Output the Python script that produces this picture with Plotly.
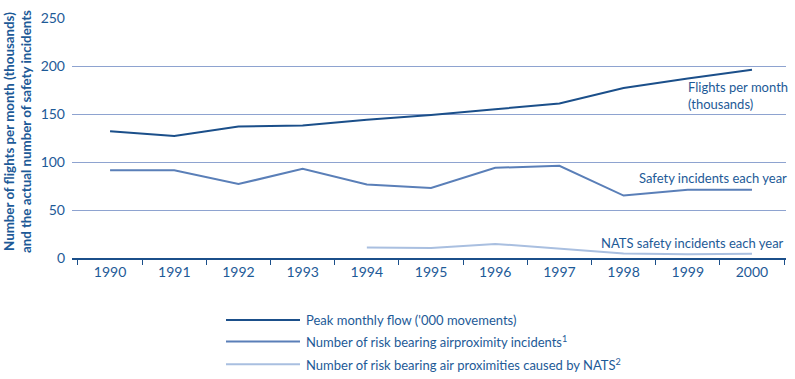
import plotly.graph_objects as go

years = ["1990", "1991", "1992", "1993", "1994", "1995", "1996", "1997", "1998", "1999", "2000"]
flights = [132, 127, 137, 138, 144, 149, 155, 161, 177, 187, 196]
safety = [91.5, 91.5, 77, 93, 76.5, 73, 94, 96, 65, 71, 71]
nats_years = ["1994", "1995", "1996", "1997", "1998", "1999", "2000"]
nats = [11, 10.5, 14.7, 9.5, 4.8, 3.8, 4.4]

legend_labels = [
    "Peak monthly flow ('000 movements)",
    "Number of risk bearing airproximity incidents<sup>1</sup>",
    "Number of risk bearing air proximities caused by NATS<sup>2</sup>",
]

C_DARK = "#1b4f8a"
C_MID = "#5a7fb8"
C_LIGHT = "#a9bfe0"
C_TEXT = "#1d5a97"
C_GRID = "#8ea3d0"
FONT = "Lato, Open Sans, sans-serif"

W, H = 795, 379
ml, mr, mt, mb = 72, 9, 14, 121
pw, ph = W - ml - mr, H - mt - mb

def px(x):  # screen x -> paper
    return (x - ml) / pw

def py(y):  # screen y -> paper
    return (H - mb - y) / ph

fig = go.Figure()
fig.add_trace(go.Scatter(x=years, y=flights, mode="lines", line=dict(color=C_DARK, width=2)))
fig.add_trace(go.Scatter(x=years, y=safety, mode="lines", line=dict(color=C_MID, width=2)))
fig.add_trace(go.Scatter(x=nats_years, y=nats, mode="lines", line=dict(color=C_LIGHT, width=2)))

fig.update_layout(
    width=W, height=H,
    margin=dict(l=ml, r=mr, t=mt, b=mb),
    paper_bgcolor="white", plot_bgcolor="white",
    showlegend=False,
    font=dict(family=FONT, color=C_TEXT, size=13),
    xaxis=dict(
        type="category", categoryorder="array", categoryarray=years,
        range=[-0.593, 10.53],
        tickson="boundaries", ticks="outside", ticklen=5, tickcolor=C_DARK, tickwidth=1,
        showline=True, linecolor=C_DARK, linewidth=1.5,
        showgrid=False, zeroline=False,
        tickfont=dict(size=14, color=C_TEXT),
    ),
    yaxis=dict(
        range=[0, 250.01], dtick=50, tick0=0,
        showgrid=True, gridcolor=C_GRID, gridwidth=1,
        zeroline=False, showline=False, ticks="",
        ticklabelstandoff=6,
        tickfont=dict(size=14, color=C_TEXT),
    ),
)

# Y axis title (two bold lines)
fig.add_annotation(
    xref="paper", yref="paper", x=px(17), y=py(130),
    text="<b>Number of flights per month (thousands)<br>and the actual number of safety incidents</b>",
    textangle=-90, showarrow=False, font=dict(size=13.3, color=C_TEXT),
    xanchor="center", yanchor="middle",
)

# in-plot labels
fig.add_annotation(xref="paper", yref="paper", x=px(686), y=py(93),
                   text="Flights per month<br>(thousands)", showarrow=False, align="left",
                   xanchor="left", yanchor="middle", font=dict(size=13, color=C_TEXT))
fig.add_annotation(xref="paper", yref="paper", x=px(637), y=py(177),
                   text="Safety incidents each year", showarrow=False,
                   xanchor="left", yanchor="middle", font=dict(size=13, color=C_TEXT))
fig.add_annotation(xref="paper", yref="paper", x=px(599), y=py(243),
                   text="NATS safety incidents each year", showarrow=False,
                   xanchor="left", yanchor="middle", font=dict(size=13, color=C_TEXT))

# custom legend
leg_colors = [C_DARK, C_MID, C_LIGHT]
leg_y = [321, 343, 366]
for lab, col, yy in zip(legend_labels, leg_colors, leg_y):
    fig.add_shape(type="line", xref="paper", yref="paper",
                  x0=px(226), x1=px(300), y0=py(yy), y1=py(yy),
                  line=dict(color=col, width=2))
    fig.add_annotation(xref="paper", yref="paper", x=px(304), y=py(yy),
                       text=lab, showarrow=False, xanchor="left", yanchor="middle",
                       font=dict(size=13, color=C_TEXT))

# remove the default 8px body margin so the figure fills the window exactly
fig.write_html("out.html", config={"displayModeBar": False},
               post_script="document.body.style.margin='0px';")
